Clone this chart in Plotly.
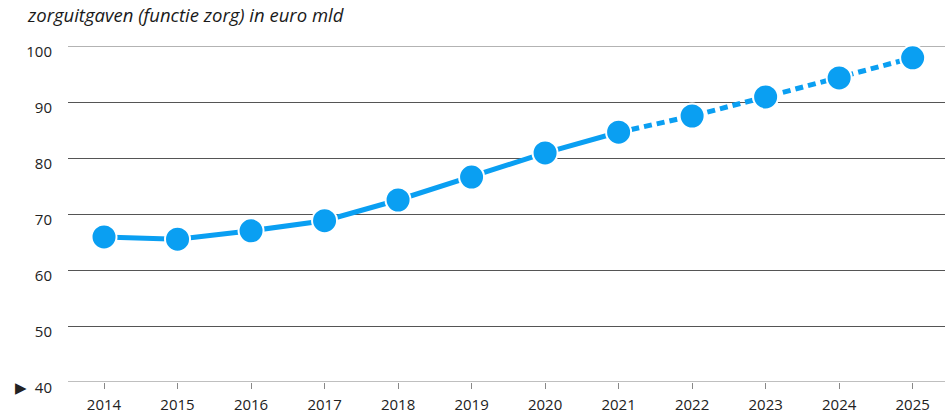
import plotly.graph_objects as go

years = [2014, 2015, 2016, 2017, 2018, 2019, 2020, 2021, 2022, 2023, 2024, 2025]
values = [65.9, 65.5, 67.0, 68.8, 72.5, 76.6, 80.9, 84.6, 87.5, 90.9, 94.3, 97.9]
actual_until = 2021
y_ticks = [40, 50, 60, 70, 80, 90, 100]
y_ticktext = ["▶\u00a0\u00a040", "50", "60", "70", "80", "90", "100"]
title_text = "zorguitgaven (functie zorg) in euro mld"

blue = "#0a9ff2"
xa = [y for y in years if y <= actual_until]
ya = [v for y, v in zip(years, values) if y <= actual_until]
xp = [y for y in years if y >= actual_until]
yp = [v for y, v in zip(years, values) if y >= actual_until]

fig = go.Figure()
fig.add_trace(go.Scatter(x=xp, y=yp, mode="lines",
                         line=dict(color=blue, width=5, dash="8px,5px"),
                         hoverinfo="skip", showlegend=False))
fig.add_trace(go.Scatter(x=xa, y=ya, mode="lines",
                         line=dict(color=blue, width=5),
                         hoverinfo="skip", showlegend=False))
fig.add_trace(go.Scatter(x=years, y=values, mode="markers",
                         marker=dict(color=blue, size=25, line=dict(color="white", width=2)),
                         showlegend=False))

font_family = "Open Sans, Lato, sans-serif"
fig.update_layout(
    width=945, height=415,
    margin=dict(l=68, r=0, t=46, b=33),
    paper_bgcolor="white", plot_bgcolor="white",
    title=dict(text=title_text, x=28/945, xref="container", xanchor="left",
               y=1 - 16/415, yref="container", yanchor="middle",
               font=dict(family=font_family, size=18.5, color="#1a1a1a", style="italic")),
    xaxis=dict(range=[2013.51, 2025.44], tickmode="array", tickvals=years,
               ticktext=[str(y) for y in years],
               showgrid=False, zeroline=False, showline=False,
               ticks="outside", ticklen=6, tickcolor="#888", tickwidth=1,
               ticklabelstandoff=3,
               tickfont=dict(family=font_family, size=15, color="#222")),
    yaxis=dict(range=[40, 100], tickmode="array", tickvals=y_ticks, ticktext=y_ticktext,
               showgrid=True, gridcolor="#555", gridwidth=1.3, zeroline=False,
               showline=False, ticks="", ticklabelstandoff=15, ticklabelshift=6,
               tickfont=dict(family=font_family, size=15, color="#222")),
    shapes=[
        dict(type="line", xref="paper", yref="y", x0=0, x1=1, y0=100, y1=100,
             line=dict(color="#9a9a9a", width=1.5), layer="below"),
        dict(type="line", xref="paper", yref="y", x0=0, x1=1, y0=40, y1=40,
             line=dict(color="#aaaaaa", width=1.5), layer="below"),
    ],
)
fig.write_html("out.html", config={"displayModeBar": False},
               post_script="document.body.style.margin='0';document.body.style.overflow='hidden';")
